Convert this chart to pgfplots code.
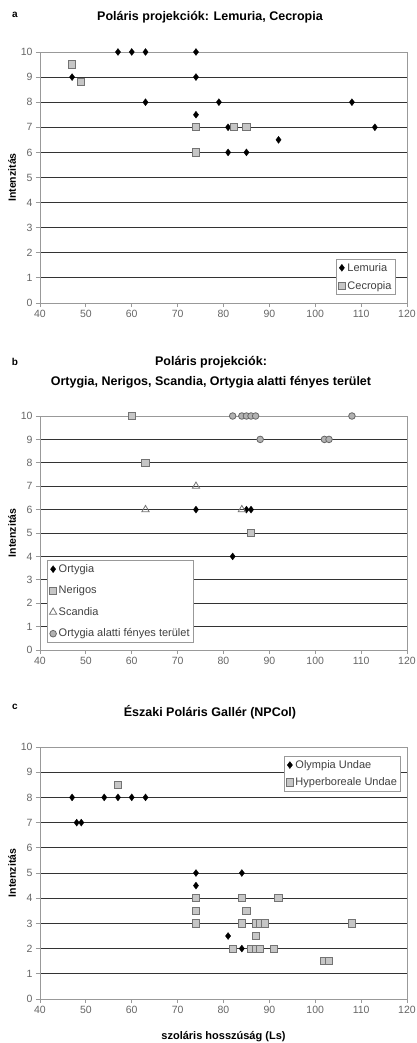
\documentclass[border=0pt]{standalone}
\usepackage{fontspec}
\setmainfont{Liberation Sans}
\usepackage{pgfplots}
\pgfplotsset{compat=1.18}
\definecolor{framec}{gray}{0.6}
\definecolor{gridc}{gray}{0.2}
\definecolor{tickc}{gray}{0.4}
\pgfplotsset{
  panel/.style={
    scale only axis, width=367pt,
    xmin=40, xmax=120, ymin=0, ymax=10,
    xtick={40,50,...,120}, ytick={0,1,...,10},
    ymajorgrids, major grid style={gridc, line width=0.9pt},
    axis line style={framec, line width=0.9pt},
    tick align=outside, major tick length=4pt, tick pos=left,
    tick style={framec, line width=0.9pt},
    ticklabel style={font=\fontsize{10.5}{12}\selectfont, text=tickc},
    /pgf/number format/assume math mode=true,
    ylabel={\bfseries Intenzitás},
    ylabel style={at={(axis description cs:-0.076,0.5)}, anchor=center, font=\fontsize{10.5}{12}\selectfont},
    legend cell align=left,
    legend style={draw=framec, line width=1pt, fill=white, font=\fontsize{11}{13}\selectfont, text=black!75, inner sep=2pt},
    clip=false,
  },
  dia/.style={only marks, mark=diamond*, mark size=3.5pt, mark options={black, fill=black, line width=0.3pt}},
  sqr/.style={only marks, mark=square*, mark size=3.6pt, mark options={draw=black!55, fill=gray!45, line width=0.9pt}},
  tri/.style={only marks, mark=triangle, mark size=4.2pt, mark options={draw=black!55, fill=white, line width=0.8pt}},
  cir/.style={only marks, mark=*, mark size=3.3pt, mark options={draw=black!60, fill=gray!60, line width=0.8pt}},
}
\begin{document}
\begin{tikzpicture}
\useasboundingbox (0pt,0pt) rectangle (417pt,-1043pt);
% panel a
\node[font=\bfseries\fontsize{10}{11}\selectfont] at (15pt,-15pt) {a};
\node[font=\bfseries\fontsize{12.5}{14}\selectfont] at (210pt,-17pt) {Poláris projekciók: Lemuria, Cecropia};
\begin{axis}[panel, height=251pt, at={(40pt,-303pt)}, anchor=south west,
  legend style={at={(0.97,0.03)}, anchor=south east, row sep=5pt}]
\addplot[dia] coordinates {(57,10)(60,10)(63,10)(74,10)(47,9)(74,9)(63,8)(79,8)(108,8)(74,7.5)(81,7)(113,7)(92,6.5)(81,6)(85,6)};
\addlegendentry{Lemuria}
\addplot[sqr] coordinates {(47,9.5)(49,8.8)(74,7)(82.3,7)(85,7)(74,6)};
\addlegendentry{Cecropia}
\end{axis}
% panel b
\node[font=\bfseries\fontsize{10}{11}\selectfont] at (15pt,-362pt) {b};
\node[font=\bfseries\fontsize{12.5}{20}\selectfont, align=center] at (211pt,-372pt) {Poláris projekciók:\\Ortygia, Nerigos, Scandia, Ortygia alatti fényes terület};
\begin{axis}[panel, height=234pt, at={(40pt,-650pt)}, anchor=south west,
  legend style={at={(0.019,0.03)}, anchor=south west, row sep=8pt}]
\addplot[dia] coordinates {(74,6)(85,6)(86,6)(82,4)};
\addlegendentry{Ortygia}
\addplot[sqr] coordinates {(60,10)(63,8)(86,5)};
\addlegendentry{Nerigos}
\addplot[tri] coordinates {(74,7)(63,6)(84,6)};
\addlegendentry{Scandia}
\addplot[cir] coordinates {(82,10)(84,10)(85,10)(86,10)(87,10)(108,10)(88,9)(102,9)(103,9)};
\addlegendentry{Ortygia alatti fényes terület}
\end{axis}
% panel c
\node[font=\bfseries\fontsize{10}{11}\selectfont] at (15pt,-707pt) {c};
\node[font=\bfseries\fontsize{12.5}{14}\selectfont] at (210pt,-712pt) {Északi Poláris Gallér (NPCol)};
\begin{axis}[panel, height=252pt, at={(40pt,-999pt)}, anchor=south west,
  xlabel={\bfseries szoláris hosszúság (Ls)},
  xlabel style={at={(axis description cs:0.5,0)}, anchor=center, yshift=-38pt, font=\fontsize{11}{13}\selectfont},
  legend style={at={(0.985,0.965)}, anchor=north east, row sep=4pt}]
\addplot[dia] coordinates {(47,8)(54,8)(57,8)(60,8)(63,8)(48,7)(49,7)(74,5)(84,5)(74,4.5)(81,2.5)(84,2)};
\addlegendentry{Olympia Undae}
\addplot[sqr] coordinates {(57,8.5)(74,4)(84,4)(92,4)(74,3.5)(85,3.5)(74,3)(84,3)(87,3)(88,3)(89,3)(108,3)(87,2.5)(82,2)(86,2)(87,2)(88,2)(91,2)(102,1.5)(103,1.5)};
\addlegendentry{Hyperboreale Undae}
\end{axis}
\end{tikzpicture}
\end{document}
